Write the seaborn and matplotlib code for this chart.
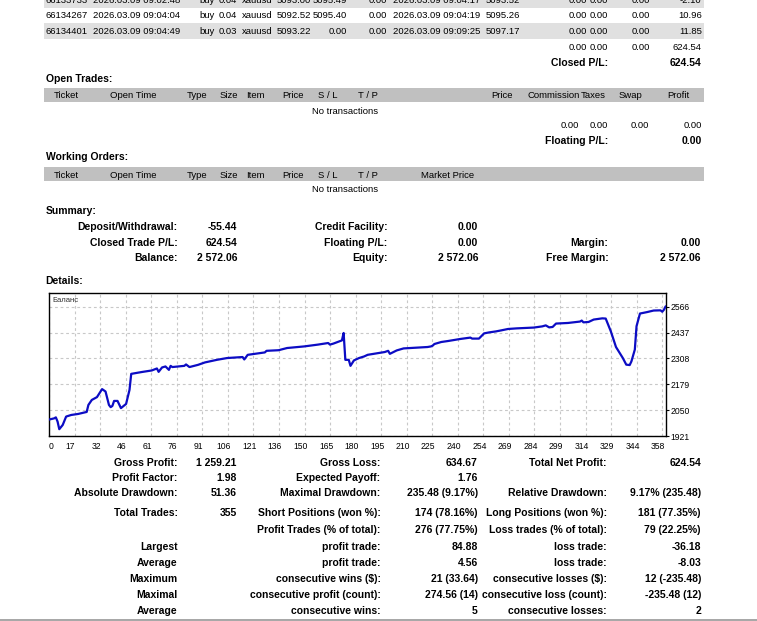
import matplotlib
matplotlib.use("Agg")
import matplotlib.pyplot as plt
import seaborn as sns
import pandas as pd
from matplotlib.patches import Rectangle
from matplotlib.transforms import ScaledTranslation

# ---------------- data ----------------
trade_rows = [
    ["66133733", "2026.03.09 09:02:48", "buy", "0.04", "xauusd", "5093.00", "5095.49", "0.00",
     "2026.03.09 09:04:17", "5093.52", "0.00", "0.00", "0.00", "-2.10"],
    ["66134267", "2026.03.09 09:04:04", "buy", "0.04", "xauusd", "5092.52", "5095.40", "0.00",
     "2026.03.09 09:04:19", "5095.26", "0.00", "0.00", "0.00", "10.96"],
    ["66134401", "2026.03.09 09:04:49", "buy", "0.03", "xauusd", "5093.22", "0.00", "0.00",
     "2026.03.09 09:09:25", "5097.17", "0.00", "0.00", "0.00", "11.85"],
]
closed_totals = ["0.00", "0.00", "0.00", "624.54"]
closed_pl = "624.54"
open_totals = ["0.00", "0.00", "0.00", "0.00"]
floating_pl = "0.00"
no_trans = "No transactions"

open_header_left = ["Ticket", "Open Time", "Type", "Size", "Item", "Price", "S / L", "T / P"]
open_header_right = ["Price", "Commission", "Taxes", "Swap", "Profit"]
working_header_extra = "Market Price"

summary_rows = [
    ("Deposit/Withdrawal:", "-55.44", "Credit Facility:", "0.00", "", ""),
    ("Closed Trade P/L:", "624.54", "Floating P/L:", "0.00", "Margin:", "0.00"),
    ("Balance:", "2 572.06", "Equity:", "2 572.06", "Free Margin:", "2 572.06"),
]

stats_rows = [
    ("Gross Profit:", "1 259.21", "Gross Loss:", "634.67", "Total Net Profit:", "624.54"),
    ("Profit Factor:", "1.98", "Expected Payoff:", "1.76", "", ""),
    ("Absolute Drawdown:", "51.36", "Maximal Drawdown:", "235.48 (9.17%)", "Relative Drawdown:", "9.17% (235.48)"),
    ("Total Trades:", "355", "Short Positions (won %):", "174 (78.16%)", "Long Positions (won %):", "181 (77.35%)"),
    ("", "", "Profit Trades (% of total):", "276 (77.75%)", "Loss trades (% of total):", "79 (22.25%)"),
    ("Largest", "", "profit trade:", "84.88", "loss trade:", "-36.18"),
    ("Average", "", "profit trade:", "4.56", "loss trade:", "-8.03"),
    ("Maximum", "", "consecutive wins ($):", "21 (33.64)", "consecutive losses ($):", "12 (-235.48)"),
    ("Maximal", "", "consecutive profit (count):", "274.56 (14)", "consecutive loss (count):", "-235.48 (12)"),
    ("Average", "", "consecutive wins:", "5", "consecutive losses:", "2"),
]

trade_idx = [0, 3, 4, 5, 6, 8, 10, 13, 17, 22, 23, 25, 28, 31, 33, 35, 36, 37, 38, 40, 42, 45, 47, 48,
             54, 60, 63, 64, 66, 68, 70, 71, 72, 79, 80, 82, 87, 91, 98, 104, 113, 114, 116, 126, 127,
             134, 139, 149, 157, 163, 164, 166, 171, 172, 173, 175, 176, 178, 181, 184, 186, 196, 198,
             199, 203, 207, 221, 223, 224, 225, 229, 233, 240, 246, 247, 251, 254, 257, 261, 264, 268,
             273, 283, 288, 290, 292, 294, 296, 303, 310, 311, 312, 315, 318, 323, 325, 328, 331, 335,
             337, 339, 340, 342, 343, 345, 349, 353, 357, 358, 359, 360]
balance = [2003, 2009, 2014, 1993, 1955, 1976, 2018, 2026, 2031, 2041, 2076, 2101, 2115, 2155, 2143,
           2076, 2065, 2071, 2096, 2096, 2060, 2081, 2151, 2231, 2240, 2248, 2258, 2241, 2263, 2268,
           2251, 2271, 2265, 2271, 2278, 2265, 2276, 2288, 2301, 2310, 2315, 2303, 2326, 2338, 2346,
           2349, 2360, 2368, 2377, 2385, 2377, 2382, 2398, 2435, 2301, 2301, 2271, 2298, 2310, 2318,
           2326, 2340, 2346, 2331, 2348, 2358, 2365, 2368, 2372, 2380, 2390, 2395, 2405, 2412, 2407,
           2407, 2433, 2438, 2443, 2448, 2455, 2458, 2462, 2468, 2473, 2463, 2465, 2482, 2485, 2492,
           2497, 2488, 2490, 2502, 2508, 2507, 2443, 2365, 2310, 2277, 2275, 2293, 2352, 2469, 2532,
           2539, 2547, 2548, 2541, 2551, 2568]

x_tick_labels = ["0", "17", "32", "46", "61", "76", "91", "106", "121", "136", "150", "165", "180",
                 "195", "210", "225", "240", "254", "269", "284", "299", "314", "329", "344", "358"]
y_ticks = [1921, 2050, 2179, 2308, 2437, 2566]
chart_label = "Баланс"

# ---------------- figure ----------------
sns.set_style("white")
plt.rcParams["font.family"] = ["Liberation Sans", "DejaVu Sans"]

W, H = 757, 621
fig = plt.figure(figsize=(W / 100, H / 100), dpi=100)
bg = fig.add_axes([0, 0, 1, 1])
bg.set_xlim(0, W)
bg.set_ylim(H, 0)
bg.axis("off")

REG, BOLD = 6.8, 7.5


def txt(x, y, s, ha="left", bold=False, size=None, color="black"):
    if not s:
        return
    bg.text(x, y + 3.5, s, ha=ha, va="baseline",
            fontsize=size or (BOLD if bold else REG),
            fontweight="bold" if bold else "normal", color=color, zorder=3)


def band(y0, y1, color):
    bg.add_patch(Rectangle((44, y0), 703.5 - 44, y1 - y0, facecolor=color, lw=0, zorder=1))


ROW_GRAY = "#e0e0e0"
HEAD_GRAY = "#c0c0c0"

# trade rows
col_x = [46, 92.7, 199, 219, 242, 277, 346.7, 387, 392.7, 486, 586.7, 607.7, 650, 701.7]
col_ha = ["left"] * 6 + ["right", "right"] + ["left", "left"] + ["right"] * 4
row_y = [-0.5, 15, 30.5]
for i, (row, y) in enumerate(zip(trade_rows, row_y)):
    if i % 2 == 0:
        band(y - 7.5, y + 8, ROW_GRAY)
    for s, x, ha in zip(row, col_x, col_ha):
        txt(x, y, s, ha=ha)
for s, x in zip(closed_totals, col_x[10:]):
    txt(x, 46, s, ha="right")
txt(608.3, 62, "Closed P/L:", ha="right", bold=True)
txt(701.7, 62, closed_pl, ha="right", bold=True)

# open trades
head_left_x = [54, 110, 187, 219.7, 246, 282, 318, 357.7]
head_right_x = [491, 527.7, 581, 618.3, 667.7]
txt(46, 78, "Open Trades:", bold=True)
band(88, 102, HEAD_GRAY)
for s, x in zip(open_header_left, head_left_x):
    txt(x, 95, s)
for s, x in zip(open_header_right, head_right_x):
    txt(x, 95, s)
txt(345.5, 110, no_trans, ha="center")
for s, x in zip(open_totals, [579, 607.7, 649.3, 701.7]):
    txt(x, 125, s, ha="right")
txt(608, 141, "Floating P/L:", ha="right", bold=True)
txt(701.7, 141, floating_pl, ha="right", bold=True)

# working orders
txt(46, 157, "Working Orders:", bold=True)
band(167, 181, HEAD_GRAY)
for s, x in zip(open_header_left, head_left_x):
    txt(x, 174, s)
txt(420.7, 174, working_header_extra)
txt(345.5, 189, no_trans, ha="center")

# summary
txt(45.3, 211, "Summary:", bold=True)
sum_x = [177.7, 237.3, 387.3, 478.3, 608.3, 701]
for row, y in zip(summary_rows, [226, 242, 257.5]):
    for s, x in zip(row, sum_x):
        txt(x, y, s, ha="right", bold=True)
txt(45.3, 280, "Details:", bold=True)

# stats
stat_x = [177.7, 236.7, 380.5, 477.7, 606.7, 701]
stat_y = [462, 477.5, 493, 513, 529.5, 546, 562, 578, 594, 610]
for row, y in zip(stats_rows, stat_y):
    for s, x in zip(row, stat_x):
        txt(x, y, s, ha="right", bold=True)

# bottom rule
bg.add_patch(Rectangle((0, 618.5), W, 2.5, facecolor="#a8a8a8", lw=0, zorder=1))

# ---------------- chart ----------------
ax = fig.add_axes([49 / W, 1 - 436 / H, (666 - 49) / W, (436 - 293) / H])
df = pd.DataFrame({"trade": trade_idx, "balance": balance})
sns.lineplot(data=df, x="trade", y="balance", ax=ax, color="#0c0cc4", lw=1.6,
             estimator=None, sort=False, zorder=3)
ax.set_xlim(0, 360.2)
ax.set_ylim(1921, 2634.5)
xt = [k * 358 / 24 for k in range(len(x_tick_labels))]
ax.set_xticks(xt)
ax.set_xticklabels(x_tick_labels)
ax.yaxis.tick_right()
ax.set_yticks(y_ticks)
ax.set_yticklabels([str(v) for v in y_ticks])
ax.set_xlabel("")
ax.set_ylabel("")
ax.grid(True, color="#c8c8c8", ls=(0, (2.5, 2.5)), lw=0.8)
ax.tick_params(axis="both", labelsize=6.2, length=2, width=0.8, colors="black")
ax.tick_params(axis="x", pad=2)
ax.tick_params(axis="y", pad=1.5)
for sp in ax.spines.values():
    sp.set_visible(True)
    sp.set_color("black")
    sp.set_linewidth(1.0)
for i, lbl in enumerate(ax.get_xticklabels()):
    dx = 2 if i == 0 else -4
    lbl.set_transform(lbl.get_transform() + ScaledTranslation(dx / 100, 0, fig.dpi_scale_trans))
ax.text(3 / 617, (436 - 300) / 143, chart_label, transform=ax.transAxes, ha="left", va="center",
        fontsize=5.5, color="#303030")

fig.savefig("out.png", dpi=100)
